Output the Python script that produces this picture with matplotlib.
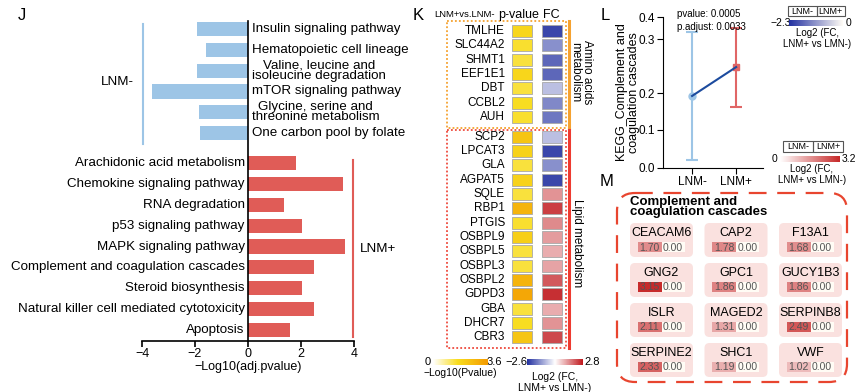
import numpy as np
import matplotlib
matplotlib.use('Agg')
import matplotlib.pyplot as plt
from matplotlib.colors import LinearSegmentedColormap, Normalize, TwoSlopeNorm
from matplotlib.patches import FancyBboxPatch, Rectangle
from matplotlib import cm

plt.rcParams['font.family'] = ['Liberation Sans', 'DejaVu Sans']
plt.rcParams['axes.unicode_minus'] = True

W, H = 865, 392

# ---------------- J: enriched pathways
neg_terms = ['Insulin signaling pathway', 'Hematopoietic cell lineage',
             'Valine, leucine and\nisoleucine degradation', 'mTOR signaling pathway',
             'Glycine, serine and\nthreonine metabolism', 'One carbon pool by folate']
neg_vals = [-1.94, -1.6, -1.94, -3.62, -1.85, -1.82]
pos_terms = ['Arachidonic acid metabolism', 'Chemokine signaling pathway', 'RNA degradation',
             'p53 signaling pathway', 'MAPK signaling pathway',
             'Complement and coagulation cascades', 'Steroid biosynthesis',
             'Natural killer cell mediated cytotoxicity', 'Apoptosis']
pos_vals = [1.8, 3.6, 1.36, 2.05, 3.65, 2.5, 2.03, 2.5, 1.58]

# ---------------- K: gene heatmap
amino_genes = ['TMLHE', 'SLC44A2', 'SHMT1', 'EEF1E1', 'DBT', 'CCBL2', 'AUH']
amino_p = [1.8, 1.5, 1.4, 1.8, 1.4, 1.6, 1.5]
amino_fc = [-2.3, -1.4, -1.9, -1.9, -0.8, -1.5, -1.7]
lipid_genes = ['SCP2', 'LPCAT3', 'GLA', 'AGPAT5', 'SQLE', 'RBP1', 'PTGIS', 'OSBPL9',
               'OSBPL5', 'OSBPL3', 'OSBPL2', 'GDPD3', 'GBA', 'DHCR7', 'CBR3']
lipid_p = [2.3, 1.9, 1.4, 1.9, 1.4, 2.8, 1.5, 2.0, 1.4, 1.4, 2.8, 3.2, 1.4, 1.6, 2.3]
lipid_fc = [-0.8, -2.3, -1.4, -2.3, 1.3, 2.3, 1.4, 1.2, 1.0, 1.1, 2.0, 2.5, 1.0, 1.3, 2.2]

# ---------------- L: pathway score
groups = ['LNM-', 'LNM+']
score_mean = [0.192, 0.248]
score_low = [0.021, 0.162]
score_high = [0.332, 0.35]

# ---------------- M: genes in complement and coagulation cascades
m_genes = ['CEACAM6', 'CAP2', 'F13A1', 'GNG2', 'GPC1', 'GUCY1B3',
           'ISLR', 'MAGED2', 'SERPINB8', 'SERPINE2', 'SHC1', 'VWF']
m_fc_pos = [1.70, 1.78, 1.68, 3.15, 1.86, 1.86, 2.11, 1.31, 2.49, 2.33, 1.19, 1.02]
m_fc_neg = [0.00] * 12

BLUE = '#9DC5E6'
RED = '#E05C57'

fig = plt.figure(figsize=(W / 100, H / 100), dpi=100)


def px_axes(x0, y0, x1, y1):
    a = fig.add_axes([x0 / W, 1 - y1 / H, (x1 - x0) / W, (y1 - y0) / H])
    a.patch.set_visible(False)
    return a


ov = fig.add_axes([0, 0, 1, 1])
ov.set_xlim(0, W)
ov.set_ylim(H, 0)
ov.axis('off')

for letter, x, y in [('J', 22, 15), ('K', 418, 15), ('L', 605, 15), ('M', 607, 181)]:
    ov.text(x, y, letter, fontsize=12, ha='center', va='center')

# ================= J
ax = px_axes(142, 21, 354, 341)
ax.set_xlim(-4, 4)
ax.set_ylim(-0.53, 14.82)
pos_y = np.arange(len(pos_vals))[::-1]
neg_y = 14.44 - np.arange(len(neg_vals))
ax.barh(neg_y, neg_vals, height=0.68, color=BLUE)
ax.barh(pos_y, pos_vals, height=0.68, color=RED)
for t, y in zip(neg_terms, neg_y):
    ax.text(0.15, y, t, ha='left', va='center', fontsize=9.6, linespacing=0.78,
            multialignment='center')
for t, y in zip(pos_terms, pos_y):
    ax.text(-0.12, y, t, ha='right', va='center', fontsize=9.6)
ax.plot([-3.96, -3.96], [14.68, 8.92], color=BLUE, lw=1.5, clip_on=False)
ax.plot([3.98, 3.98], [8.14, -0.33], color=RED, lw=1.5, clip_on=False)
ax.text(-4.3, 11.9, 'LNM-', ha='right', va='center', fontsize=9.6)
ax.text(4.23, 3.88, 'LNM+', ha='left', va='center', fontsize=9.6)
ax.spines[['top', 'right']].set_visible(False)
ax.spines['left'].set_position(('data', 0))
ax.spines['left'].set_linewidth(1.2)
ax.spines['bottom'].set_linewidth(1.2)
ax.set_yticks([])
ax.set_xticks([-4, -2, 0, 2, 4])
ax.tick_params(axis='x', length=4, width=1.2, labelsize=9, pad=1)
ax.set_xlabel('\u2212Log10(adj.pvalue)', fontsize=9, labelpad=1)

# ================= K
p_cmap = LinearSegmentedColormap.from_list('pv', [(0, '#FFFFFF'), (0.45, '#F8DC1E'), (1, '#F39A00')])
p_norm = Normalize(0, 3.6)
fc_cmap = LinearSegmentedColormap.from_list('fc', [(0, '#2230A0'), (0.5, '#FFFFFF'), (1, '#C0171C')])
fc_norm = TwoSlopeNorm(vcenter=0, vmin=-2.6, vmax=2.8)

ak = px_axes(430, 18, 600, 350)
ak.set_xlim(-3.07, 2.6)
ak.set_ylim(22.3, -0.91)
ak.axis('off')
genes = amino_genes + lipid_genes
pvals = np.array(amino_p + lipid_p)
fcs = np.array(amino_fc + lipid_fc)
row_y = np.concatenate([np.arange(len(amino_genes)), 7.4 + np.arange(len(lipid_genes))])
ak.barh(row_y, 0.67, left=-0.335, height=0.84, color=p_cmap(p_norm(pvals)),
        edgecolor='#A8A8A8', lw=0.6)
ak.barh(row_y, 0.67, left=1 - 0.335, height=0.84, color=fc_cmap(fc_norm(fcs)),
        edgecolor='#A8A8A8', lw=0.6)
for g, y in zip(genes, row_y):
    ak.text(-0.57, y, g, ha='right', va='center', fontsize=8.5)
ak.add_patch(Rectangle((-2.5, -0.7), 3.97, 7.48, fill=False, ec='#F5A230', lw=1.3,
                       ls=(0, (1, 1.2)), clip_on=False))
ak.add_patch(Rectangle((-2.5, 6.92), 3.97, 15.25, fill=False, ec='#EE4B3E', lw=1.3,
                       ls=(0, (1, 1.2)), clip_on=False))
ak.plot([1.57, 1.57], [-0.7, 6.78], color='#F5A230', lw=2.2, clip_on=False)
ak.plot([1.57, 1.57], [6.92, 22.17], color='#EE3B30', lw=2.2, clip_on=False)
ak.text(1.97, 2.87, 'Amino acids\nmetabolism', rotation=270, ha='center', va='center',
        fontsize=8.5, linespacing=0.95)
ak.text(1.83, 14.8, 'Lipid metabolism', rotation=270, ha='center', va='center', fontsize=8.5)
ak.text(-1.93, -1.12, 'LNM+vs.LNM-', ha='center', va='center', fontsize=6.8)
ak.text(-0.1, -1.12, 'p-value', ha='center', va='center', fontsize=9)
ak.text(0.97, -1.12, 'FC', ha='center', va='center', fontsize=9)

cax = px_axes(433, 359, 488, 365)
fig.colorbar(cm.ScalarMappable(p_norm, p_cmap), cax=cax, orientation='horizontal')
cax.set_axis_off()
cax = px_axes(527, 359, 583, 365)
fig.colorbar(cm.ScalarMappable(fc_norm, fc_cmap), cax=cax, orientation='horizontal')
cax.set_axis_off()
ov.text(428, 362, '0', ha='center', va='center', fontsize=8)
ov.text(494, 362, '3.6', ha='center', va='center', fontsize=8)
ov.text(460, 373, '\u2212Log10(Pvalue)', ha='center', va='center', fontsize=7.5)
ov.text(516, 362, '\u22122.6', ha='center', va='center', fontsize=8)
ov.text(592, 362, '2.8', ha='center', va='center', fontsize=8)
ov.text(555, 372, 'Log2 (FC,\nLNM+ vs LMN-)', ha='center', va='top', fontsize=7.5,
        linespacing=1.1)

# ================= L
ticks_v = [0, 0.1, 0.2, 0.3, 0.4]
ticks_px = [0, 38, 75, 129, 151]


def fwd(v):
    return np.interp(v, ticks_v, ticks_px)


def inv(p):
    return np.interp(p, ticks_px, ticks_v)


al = px_axes(663, 17, 763, 168)
al.set_yscale('function', functions=(fwd, inv))
al.set_ylim(0, 0.4)
al.set_xlim(-0.66, 1.61)
xg = np.arange(len(groups))
al.plot(xg, score_mean, color='#1C4B9E', lw=1.5, zorder=3)
for i, (c, mk) in enumerate([(BLUE, 'o'), ('#E06666', 's')]):
    al.errorbar(xg[i], score_mean[i],
                yerr=[[score_mean[i] - score_low[i]], [score_high[i] - score_mean[i]]],
                fmt=mk, color=c, ms=5, capsize=4, elinewidth=1.5, capthick=1.5, zorder=2)
al.set_yticks(ticks_v)
al.set_yticklabels(['0.0', '0.1', '0.2', '0.3', '0.4'])
al.set_xticks(xg)
al.set_xticklabels(groups)
al.spines[['top', 'right']].set_visible(False)
al.tick_params(labelsize=8.5, length=4, pad=1.5)
al.set_ylabel('KEGG_Complement and\ncoagulation cascades', fontsize=9, linespacing=0.95)
al.yaxis.set_label_coords(-0.235, 0.5)
al.text(0.14, 1.05, 'pvalue: 0.0005\np.adjust: 0.0033', transform=al.transAxes,
        fontsize=7, va='top', ha='left', linespacing=1.3)

b_cmap = LinearSegmentedColormap.from_list('bl', ['#2230A0', '#FFFCF5'])
b_norm = Normalize(-2.3, 0)
r_cmap = LinearSegmentedColormap.from_list('rd', ['#FFFFFF', '#C62828'])
r_norm = Normalize(0, 3.2)


def lnm_key(x0, x1, y0, y1):
    mid = (x0 + x1) / 2
    for a, b, t in [(x0, mid, 'LNM-'), (mid, x1, 'LNM+')]:
        ov.add_patch(Rectangle((a, y0), b - a, y1 - y0, fill=False, ec='#555555', lw=0.8))
        ov.text((a + b) / 2, (y0 + y1) / 2, t, ha='center', va='center', fontsize=6.5)


lnm_key(788, 845, 6, 16)
cax = px_axes(789, 20, 843, 26)
fig.colorbar(cm.ScalarMappable(b_norm, b_cmap), cax=cax, orientation='horizontal')
cax.set_axis_off()
ov.text(781, 23, '\u22122.3', ha='center', va='center', fontsize=7.5)
ov.text(849, 23, '0', ha='center', va='center', fontsize=7.5)
ov.text(817, 28, 'Log2 (FC,\nLNM+ vs LMN-)', ha='center', va='top', fontsize=7,
        linespacing=1.1)

lnm_key(783, 843, 141, 152)
cax = px_axes(780, 156, 840, 162)
fig.colorbar(cm.ScalarMappable(r_norm, r_cmap), cax=cax, orientation='horizontal')
cax.set_axis_off()
ov.text(774, 159, '0', ha='center', va='center', fontsize=7.5)
ov.text(849, 159, '3.2', ha='center', va='center', fontsize=7.5)
ov.text(812, 164, 'Log2 (FC,\nLNM+ vs LMN-)', ha='center', va='top', fontsize=7,
        linespacing=1.1)

# ================= M
ov.add_patch(FancyBboxPatch((617, 193), 230, 189, boxstyle='round,pad=0,rounding_size=18',
                            fill=False, ec='#E8452F', lw=1.6, ls=(0, (8, 4.8))))
ov.text(630, 207, 'Complement and\ncoagulation cascades', fontsize=9.5, fontweight='bold',
        ha='left', va='center', linespacing=0.85)
tw, th, rr = 63, 34, 5
for k, g in enumerate(m_genes):
    r, c = divmod(k, 3)
    x0 = 630 + c * 74.5
    y0 = 223 + r * 40
    cx = x0 + tw / 2
    ov.add_patch(FancyBboxPatch((x0 + rr, y0 + rr), tw - 2 * rr, th - 2 * rr,
                                boxstyle=f'round,pad={rr}', fc='#FAE1DF', ec='none'))
    ov.text(cx, y0 + 10, g, ha='center', va='center', fontsize=9)
    ov.add_patch(Rectangle((cx - 24, y0 + 19), 24, 10, fc=r_cmap(r_norm(m_fc_pos[k])), ec='none'))
    ov.add_patch(Rectangle((cx, y0 + 19), 23, 10, fc=b_cmap(b_norm(m_fc_neg[k])), ec='none'))
    ov.text(cx - 12, y0 + 24.5, f'{m_fc_pos[k]:.2f}', ha='center', va='center',
            fontsize=7.5, color='#555555')
    ov.text(cx + 11.5, y0 + 24.5, f'{m_fc_neg[k]:.2f}', ha='center', va='center',
            fontsize=7.5, color='#555555')

fig.savefig('out.png', dpi=100)
